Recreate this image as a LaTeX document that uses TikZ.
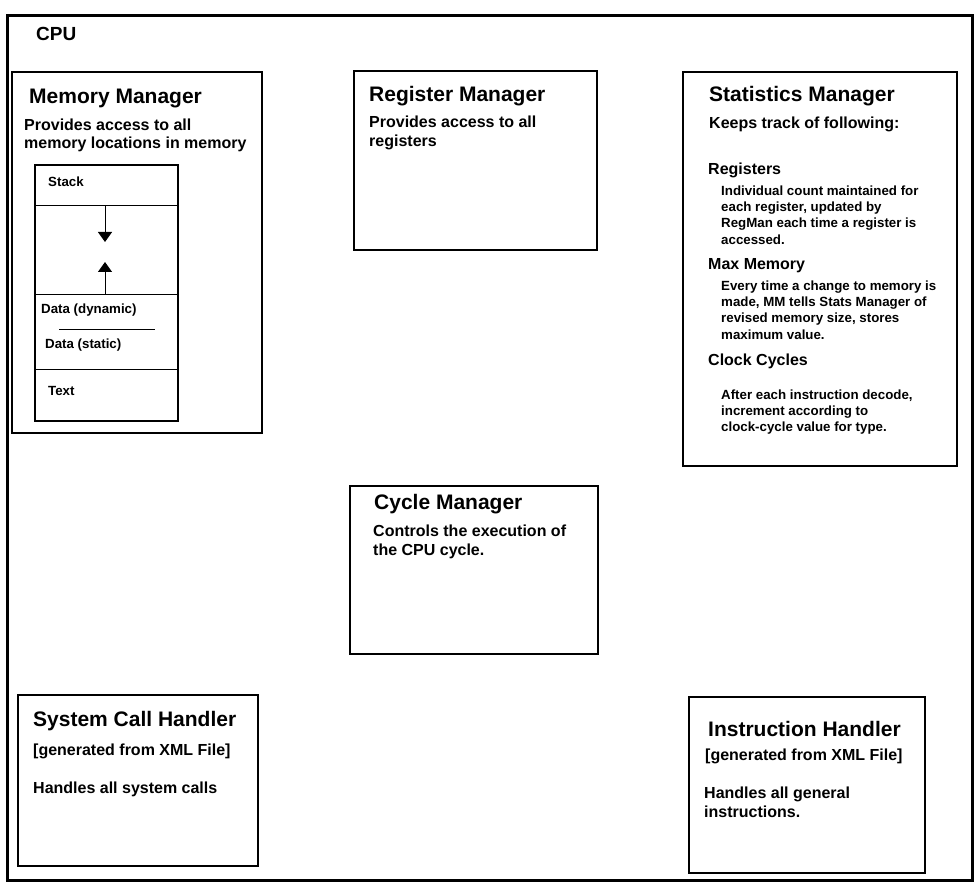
\documentclass[tikz,border=0pt]{standalone}
\usepackage{fontspec}
\setmainfont{Liberation Sans}
\usetikzlibrary{arrows.meta}
\begin{document}
\begin{tikzpicture}[x=1pt,y=-1pt,
  frame/.style={draw=black,line width=3pt},
  box/.style={draw=black,line width=1.2pt},
  thin/.style={draw=black,line width=1pt},
  cputxt/.style={anchor=base west,inner sep=0pt,font=\fontsize{19}{19}\selectfont\bfseries},
  title/.style={anchor=base west,inner sep=0pt,font=\fontsize{21}{21}\selectfont\bfseries},
  body/.style={anchor=base west,inner sep=0pt,font=\fontsize{16}{16}\selectfont\bfseries},
  small/.style={anchor=base west,inner sep=0pt,font=\fontsize{13.3}{13.3}\selectfont\bfseries},
  arr/.style={draw=black,line width=1pt,-{Triangle[width=14pt,length=10pt]}}]
\useasboundingbox (0,0) rectangle (979,890);
\fill[white] (0,0) rectangle (979,890);
% outer frame
\draw[frame] (7,16) rectangle (972,880);
\node[cputxt] (cpu) at (36,41) {CPU};
% Memory Manager
\draw[box] (12,72) rectangle (262,433);
\node[title] (mmt) at (29,103.5) {Memory Manager};
\node[body] (mm1) at (24,131) {Provides access to all};
\node[body] (mm2) at (24,149) {memory locations in memory};
% memory column
\draw[box] (35,165) rectangle (178,421);
\coordinate (s1l) at (35,206); \coordinate (s1r) at (178,206);
\coordinate (s2l) at (35,295); \coordinate (s2r) at (178,295);
\coordinate (s3l) at (35,369); \coordinate (s3r) at (178,369);
\coordinate (dl) at (59,329); \coordinate (dr) at (155,329);
\draw[thin] (s1l) -- (s1r);
\draw[thin] (s2l) -- (s2r);
\draw[thin] (s3l) -- (s3r);
\draw[thin] (dl) -- (dr);
\coordinate (a1s) at (105,206); \coordinate (a1e) at (105,242);
\coordinate (a2s) at (105,295); \coordinate (a2e) at (105,262);
\draw[arr] (a1s) -- (a1e);
\draw[arr] (a2s) -- (a2e);
\node[small] (stk) at (48,187) {Stack};
\node[small] (ddyn) at (41,314) {Data (dynamic)};
\node[small] (dsta) at (45,348) {Data (static)};
\node[small] (txt) at (48,395) {Text};
% Register Manager
\draw[box] (354,71) rectangle (597,250);
\node[title] (rmt) at (369,101.5) {Register Manager};
\node[body] (rm1) at (369,128) {Provides access to all};
\node[body] (rm2) at (369,147) {registers};
% Statistics Manager
\draw[box] (683,72) rectangle (957,466);
\node[title] (smt) at (709,101.5) {Statistics Manager};
\node[body] (sm1) at (709,129) {Keeps track of following:};
\node[body] (smr) at (708,175) {Registers};
\node[small] (r1) at (721,196) {Individual count maintained for};
\node[small] (r2) at (721,212) {each register, updated by};
\node[small] (r3) at (721,228) {RegMan each time a register is};
\node[small] (r4) at (721,245) {accessed.};
\node[body] (smm) at (708,270) {Max Memory};
\node[small] (m1) at (721,291) {Every time a change to memory is};
\node[small] (m2) at (721,307) {made, MM tells Stats Manager of};
\node[small] (m3) at (721,323) {revised memory size, stores};
\node[small] (m4) at (721,339) {maximum value.};
\node[body] (smc) at (708,365) {Clock Cycles};
\node[small] (c1) at (721,399) {After each instruction decode,};
\node[small] (c2) at (721,415) {increment according to};
\node[small] (c3) at (721,431) {clock-cycle value for type.};
% Cycle Manager
\draw[box] (350,486) rectangle (598,654);
\node[title] (cmt) at (374,509.5) {Cycle Manager};
\node[body] (cm1) at (373,536) {Controls the execution of};
\node[body] (cm2) at (373,555) {the CPU cycle.};
% System Call Handler
\draw[box] (18,695) rectangle (258,866);
\node[title] (sct) at (33,726.5) {System Call Handler};
\node[body] (sc1) at (33,755) {[generated from XML File]};
\node[body] (sc2) at (33,793) {Handles all system calls};
% Instruction Handler
\draw[box] (689,697) rectangle (925,873);
\node[title] (iht) at (708,736.5) {Instruction Handler};
\node[body] (ih1) at (705,760) {[generated from XML File]};
\node[body] (ih2) at (704,798) {Handles all general};
\node[body] (ih3) at (704,817) {instructions.};
\end{tikzpicture}
\end{document}
